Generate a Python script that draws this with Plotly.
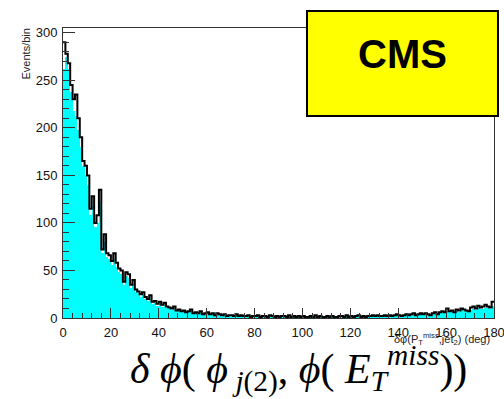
import plotly.graph_objects as go

# bin centres (1 degree bins, 0..180)
bin_edges = list(range(0, 181))
bin_centers = [e + 0.5 for e in range(0, 180)]

# black outline histogram (Events/bin)
line_vals = [
    290, 278, 268, 245, 230, 235, 210, 190, 165, 160,
    150, 115, 128, 100, 108, 135, 72, 88, 68, 66,
    60, 68, 58, 52, 50, 38, 48, 46, 35, 40,
    30, 28, 25, 27, 22, 20, 24, 17, 18, 15,
    17, 14, 16, 12, 11, 10, 12, 8, 9, 7,
    8, 6, 7, 9, 5, 6, 5, 7, 4, 5,
    6, 4, 5, 3, 5, 4, 3, 4, 2, 3,
    3, 2, 4, 2, 3, 2, 2, 3, 1, 2,
    2, 3, 1, 2, 2, 1, 3, 2, 1, 2,
    1, 2, 2, 1, 3, 1, 2, 1, 2, 1,
    2, 1, 1, 2, 1, 3, 1, 2, 1, 1,
    2, 1, 2, 1, 1, 2, 2, 1, 3, 1,
    2, 1, 2, 3, 1, 2, 1, 2, 2, 3,
    2, 3, 2, 2, 3, 2, 3, 2, 3, 4,
    3, 2, 3, 4, 3, 4, 5, 3, 4, 5,
    4, 5, 4, 3, 5, 6, 4, 6, 7, 6,
    10, 7, 8, 6, 9, 8, 10, 9, 8, 7,
    11, 12, 10, 13, 11, 12, 14, 12, 11, 17,
]

# cyan filled histogram
fill_vals = [
    262, 275, 262, 238, 218, 212, 198, 180, 160, 150,
    140, 108, 118, 96, 100, 122, 68, 80, 64, 62,
    56, 62, 54, 48, 46, 35, 44, 42, 32, 36,
    27, 26, 22, 24, 20, 18, 21, 15, 16, 13,
    15, 12, 14, 10, 10, 8, 10, 7, 8, 6,
    7, 5, 6, 7, 4, 5, 4, 6, 3, 4,
    5, 3, 4, 2, 4, 3, 2, 3, 2, 2,
    2, 2, 3, 1, 2, 2, 1, 2, 1, 1,
    1, 2, 1, 1, 2, 1, 2, 1, 1, 1,
    1, 1, 2, 1, 2, 1, 1, 1, 1, 1,
    1, 1, 1, 1, 1, 2, 1, 1, 1, 1,
    1, 1, 1, 1, 1, 1, 1, 1, 2, 1,
    1, 1, 1, 2, 1, 1, 1, 1, 1, 2,
    1, 2, 1, 1, 2, 1, 2, 1, 2, 3,
    2, 1, 2, 3, 2, 3, 4, 3, 3, 4,
    3, 4, 3, 3, 4, 5, 3, 5, 5, 5,
    7, 6, 6, 5, 7, 6, 8, 7, 7, 6,
    8, 9, 8, 10, 9, 9, 11, 10, 9, 13,
]

y_ticks = [0, 50, 100, 150, 200, 250, 300]
x_ticks = [0, 20, 40, 60, 80, 100, 120, 140, 160, 180]

W, H = 504, 399
L, R, T, B = 63, 10, 28, 81
pw, ph = W - L - R, H - T - B


def px_x(p):
    return (p - L) / pw


def px_y(p):
    return (H - B - p) / ph


fig = go.Figure()
fig.add_trace(go.Bar(
    x=bin_centers, y=fill_vals, width=1.0,
    marker=dict(color="#00ffff", line=dict(width=0)),
    showlegend=False, hoverinfo="skip",
))
fig.add_trace(go.Scatter(
    x=bin_edges, y=line_vals + [line_vals[-1]],
    mode="lines", line=dict(color="black", width=2, shape="hv"),
    showlegend=False, hoverinfo="skip",
))

axis_font = dict(family="Liberation Sans, Arial, sans-serif", size=13, color="#111")
fig.update_layout(
    width=W, height=H,
    margin=dict(l=L, r=R, t=T, b=B, pad=0, autoexpand=False),
    paper_bgcolor="white", plot_bgcolor="white",
    bargap=0,
    xaxis=dict(
        range=[0, 180], tickvals=x_ticks, ticks="inside", ticklen=10,
        tickcolor="#333", tickwidth=1, showgrid=False, zeroline=False,
        showline=True, linecolor="#333", linewidth=1, mirror=True,
        tickfont=axis_font, ticklabelstandoff=2, ticklabeloverflow="allow",
        automargin=False,
        minor=dict(dtick=4, tick0=0, ticks="inside", ticklen=5, tickcolor="#333"),
    ),
    yaxis=dict(
        range=[0, 305], tickvals=y_ticks, ticks="inside", ticklen=12,
        tickcolor="#333", tickwidth=1, showgrid=False, zeroline=False,
        showline=True, linecolor="#333", linewidth=1, mirror=True,
        tickfont=axis_font, ticklabelstandoff=2, automargin=False,
        minor=dict(dtick=10, tick0=0, ticks="inside", ticklen=6, tickcolor="#333"),
    ),
    shapes=[dict(
        type="rect", xref="paper", yref="paper",
        x0=px_x(307), x1=px_x(498), y0=px_y(116), y1=px_y(11),
        fillcolor="#ffff00", line=dict(color="black", width=2), layer="above",
    )],
    annotations=[
        dict(text="<b>CMS</b>", xref="paper", yref="paper",
             x=px_x(402), y=px_y(54), xanchor="center", yanchor="middle",
             showarrow=False,
             font=dict(family="Liberation Sans, Arial, sans-serif", size=40, color="black")),
        dict(text="Events/bin", xref="paper", yref="paper",
             x=px_x(25), y=px_y(27), xanchor="center", yanchor="top",
             textangle=-90, showarrow=False,
             font=dict(family="Liberation Sans, Arial, sans-serif", size=11, color="#222")),
        dict(text="δφ(P<sub>T</sub><sup>miss</sup>,jet<sub>2</sub>) (deg)",
             xref="paper", yref="paper",
             x=px_x(492), y=px_y(339), xanchor="right", yanchor="middle",
             showarrow=False,
             font=dict(family="Liberation Sans, Arial, sans-serif", size=11, color="#222")),
        dict(text="<i>δ ϕ</i>( <i>ϕ</i><sub> <i>j</i>(2)</sub>, <i>ϕ</i>( <i>E</i><sub><i>T</i></sub><sup><i>miss</i></sup>))",
             xref="paper", yref="paper",
             x=px_x(298), y=px_y(368), xanchor="center", yanchor="middle",
             showarrow=False,
             font=dict(family="Liberation Serif, Times New Roman, serif", size=42, color="black")),
    ],
)

fig.write_html("out.html", config={"displayModeBar": False, "responsive": False})

# remove the default page margin so the figure sits at the window's top-left
with open("out.html", "r", encoding="utf-8") as f:
    html = f.read()
html = html.replace("<body>", '<body style="margin:0;padding:0;overflow:hidden;">', 1)
with open("out.html", "w", encoding="utf-8") as f:
    f.write(html)
